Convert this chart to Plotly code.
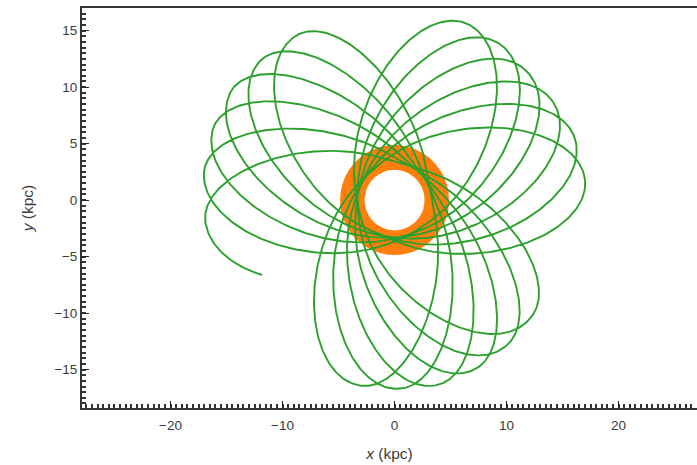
import numpy as np
import plotly.graph_objects as go

# ---------------- data ----------------
# Green orbit: apocentre directions (deg) and radii (kpc) in time order
green_apo_angle = [6, 259, 121, 19, 271, 134, 31, 283, 146, 44, 295, 158, 56, 307, 171, 68, 319, 186]
green_apo_radius = [17.1, 16.7, 17.0, 17.0, 16.7, 17.2, 16.6, 16.8, 17.5, 16.4, 16.6, 17.4,
                    16.7, 16.3, 17.2, 16.9, 16.0, 17.0]
green_peri_radius = 3.3
green_end_xy = [-11.8, -6.6]

# Orange orbit: inner, densely wound orbit filling an annulus
orange_peri_radius = 2.8
orange_apo_radius = 4.75
orange_apsidal_step = 227.0   # deg between successive apocentres
orange_n_periods = 90
orange_start_angle = 40.0

x_tickvals = [-20, -10, 0, 10, 20]
y_tickvals = [-15, -10, -5, 0, 5, 10, 15]


# ---------------- orbit path between apocentres ----------------
def radial_period(phi_a, dphi, ra_a, ra_b, rp, n=240):
    """One radial period from an apocentre to the next (Kepler-like timing)."""
    psi = np.linspace(0.0, 2 * np.pi, n)
    ra = ra_a + (ra_b - ra_a) * psi / (2 * np.pi)
    r = 0.5 * (ra + rp) + 0.5 * (ra - rp) * np.cos(psi)
    w = 1.0 / r
    g = np.concatenate([[0.0], np.cumsum(0.5 * (w[1:] + w[:-1]) * np.diff(psi))])
    phi = phi_a + dphi * g / g[-1]
    return psi, r, phi, g / g[-1]


def step(a, b):
    d = (b - a) % 360.0
    if d < 180:
        d += 360.0
    return d


mean_step = np.mean([step(green_apo_angle[i], green_apo_angle[i + 1])
                     for i in range(len(green_apo_angle) - 1)])

rs, phis = [], []
# lead-in: from a pericentre up to the first apocentre
psi, r, ph, _ = radial_period(green_apo_angle[0] - mean_step, mean_step,
                              green_apo_radius[0], green_apo_radius[0], green_peri_radius)
m = psi >= np.pi
rs.append(r[m]); phis.append(ph[m])
for i in range(len(green_apo_angle) - 1):
    psi, r, ph, _ = radial_period(green_apo_angle[i],
                                  step(green_apo_angle[i], green_apo_angle[i + 1]),
                                  green_apo_radius[i], green_apo_radius[i + 1], green_peri_radius)
    rs.append(r); phis.append(ph)
# final stretch: after the last apocentre down to the end point
r_end = float(np.hypot(*green_end_xy))
phi_end = float(np.degrees(np.arctan2(green_end_xy[1], green_end_xy[0]))) % 360.0
psi, r, ph, frac = radial_period(green_apo_angle[-1], mean_step,
                                 green_apo_radius[-1], green_apo_radius[-1], green_peri_radius)
k_end = int(np.argmin(np.abs(r[: len(r) // 2] - r_end)))
dphi_last = np.clip((phi_end - green_apo_angle[-1]) / frac[k_end], 200.0, 330.0)
psi, r, ph, frac = radial_period(green_apo_angle[-1], dphi_last,
                                 green_apo_radius[-1], green_apo_radius[-1], green_peri_radius)
m = (psi <= np.pi) & (r >= r_end)
rs.append(r[m]); phis.append(ph[m])
gr = np.concatenate(rs)
gp = np.radians(np.concatenate(phis))
gx, gy = gr * np.cos(gp), gr * np.sin(gp)

ors, ops = [], []
for k in range(orange_n_periods):
    psi, r, ph, _ = radial_period(orange_start_angle + k * orange_apsidal_step, orange_apsidal_step,
                                  orange_apo_radius, orange_apo_radius, orange_peri_radius, n=120)
    ors.append(r); ops.append(ph)
orr = np.concatenate(ors)
orp = np.radians(np.concatenate(ops))
ox, oy = orr * np.cos(orp), orr * np.sin(orp)

# ---------------- figure ----------------
fig = go.Figure()
fig.add_trace(go.Scatter(x=ox, y=oy, mode="lines",
                         line=dict(color="#ff7f0e", width=2.6), hoverinfo="skip",
                         showlegend=False))
fig.add_trace(go.Scatter(x=gx, y=gy, mode="lines",
                         line=dict(color="#2ca02c", width=1.9), hoverinfo="skip",
                         showlegend=False))

tick_font = dict(family="Liberation Sans, Arial, sans-serif", size=13.5, color="#3a3a3a")
title_font = dict(family="Liberation Sans, Arial, sans-serif", size=15.5, color="#3a3a3a")

fig.update_layout(
    width=697, height=465,
    margin=dict(l=82, r=0, t=8, b=57, autoexpand=False),
    paper_bgcolor="white", plot_bgcolor="white",
    showlegend=False,
)
fig.update_xaxes(
    range=[-27.9, 27.0], tickvals=x_tickvals, ticks="inside", ticklen=7, tickwidth=1.3,
    tickcolor="#222222", showline=True, linecolor="#333333", linewidth=2, mirror=True,
    showgrid=False, zeroline=False, tickfont=tick_font, automargin=False,
    ticklabelstandoff=4,
    minor=dict(ticks="inside", dtick=0.5, ticklen=4, tickwidth=1.5, tickcolor="#333333"),
    title=dict(text="<i>x</i> (kpc)", font=title_font, standoff=16),
)
fig.update_yaxes(
    range=[-18.4, 17.0], tickvals=y_tickvals, ticks="inside", ticklen=7, tickwidth=1.3,
    tickcolor="#222222", showline=True, linecolor="#333333", linewidth=2,
    showgrid=False, zeroline=False, tickfont=tick_font, automargin=False,
    minor=dict(ticks="inside", dtick=0.5, ticklen=4, tickwidth=1.5, tickcolor="#333333"),
    title=dict(text="<i>y</i> (kpc)", font=title_font, standoff=17),
)

fig.write_html("out.html",
               config={"displayModeBar": False},
               post_script="document.body.style.margin='0';document.body.style.overflow='hidden';")
